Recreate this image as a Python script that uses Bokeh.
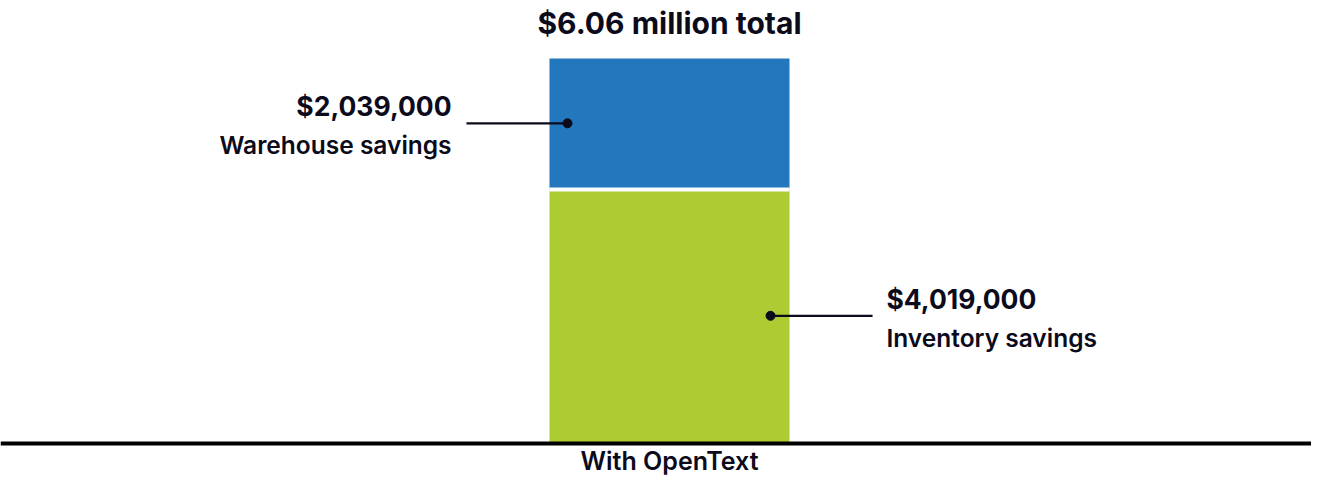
from bokeh.plotting import figure
from bokeh.models import Span, ColumnDataSource, Range1d
from bokeh.core.properties import value
from bokeh.embed import file_html
from bokeh.resources import INLINE

# ---- data ----
category = "With OpenText"
segments = ["Inventory savings", "Warehouse savings"]
amounts_millions = [4.019, 2.039]
value_labels = ["$4,019,000", "$2,039,000"]
colors = ["#ADCB33", "#2378BD"]
title_text = "$6.06 million total"

# ---- layout constants (pixels) ----
W, H = 1311, 475
K = 63.55          # px per million (y)
XS = 240.0         # px per bar width unit (x)
CX = 669           # bar centre, px from left
BASE = 443         # baseline, px from top
FONT_B = value("Inter")
FONT_M = value("Inter SemiBold, Inter")
INK = "#0b0b1c"

bottoms = [0.0]
for a in amounts_millions[:-1]:
    bottoms.append(bottoms[-1] + a)
tops = [b + a for b, a in zip(bottoms, amounts_millions)]
mids = [(b + t) / 2 for b, t in zip(bottoms, tops)]
total = tops[-1]

p = figure(width=W, height=H, output_backend="svg", toolbar_location=None,
           x_range=Range1d(-CX / XS, (W - CX) / XS),
           y_range=Range1d(-(H - BASE) / K, BASE / K),
           min_border=0, min_border_left=0, min_border_right=0,
           min_border_top=0, min_border_bottom=0)
p.axis.visible = False
p.grid.visible = False
p.outline_line_color = None
p.background_fill_color = "white"
p.border_fill_color = "white"

src = ColumnDataSource(dict(x=[0] * len(segments), bottom=bottoms, top=tops, color=colors))
p.vbar(x="x", width=1.0, bottom="bottom", top="top", fill_color="color",
       line_color=None, source=src)

# white separator between stacked segments
n_sep = len(tops) - 1
p.segment(x0=[-0.5] * n_sep, x1=[0.5] * n_sep,
          y0=[t - 1.5 / K for t in tops[:-1]], y1=[t - 1.5 / K for t in tops[:-1]],
          line_color="white", line_width=4)

# baseline
p.add_layout(Span(location=0, dimension="width", line_color="black", line_width=4))

# callouts: inventory on the right, warehouse on the left
dot_x = [0.421, -0.425]
line_end = [0.846, -0.846]
text_x = [0.904, -0.908]
align = ["left", "right"]

p.segment(x0=dot_x, x1=line_end, y0=mids, y1=mids, line_color=INK, line_width=2.2)
p.scatter(x=dot_x, y=mids, size=9, fill_color=INK, line_color=INK)

for i in range(len(segments)):
    p.text(x=[text_x[i]], y=[mids[i] + 17 / K], text=[value_labels[i]],
           text_font=FONT_B, text_font_style="bold", text_font_size="26.5px",
           text_color=INK, text_align=align[i], text_baseline="alphabetic")
    p.text(x=[text_x[i]], y=[mids[i] - 22 / K], text=[segments[i]],
           text_font=FONT_M, text_font_style="normal", text_font_size="24.5px",
           text_color=INK, text_align=align[i], text_baseline="alphabetic")

p.text(x=[0], y=[total + 36 / K], text=[title_text], text_font=FONT_B,
       text_font_style="bold", text_font_size="30px", text_color=INK,
       text_align="center", text_baseline="alphabetic")

p.text(x=[0], y=[-(460 - BASE) / K], text=[category], text_font=FONT_M,
       text_font_style="normal", text_font_size="25px", text_color=INK,
       text_align="center", text_baseline="alphabetic")

open("out.html", "w").write(file_html(p, INLINE))
